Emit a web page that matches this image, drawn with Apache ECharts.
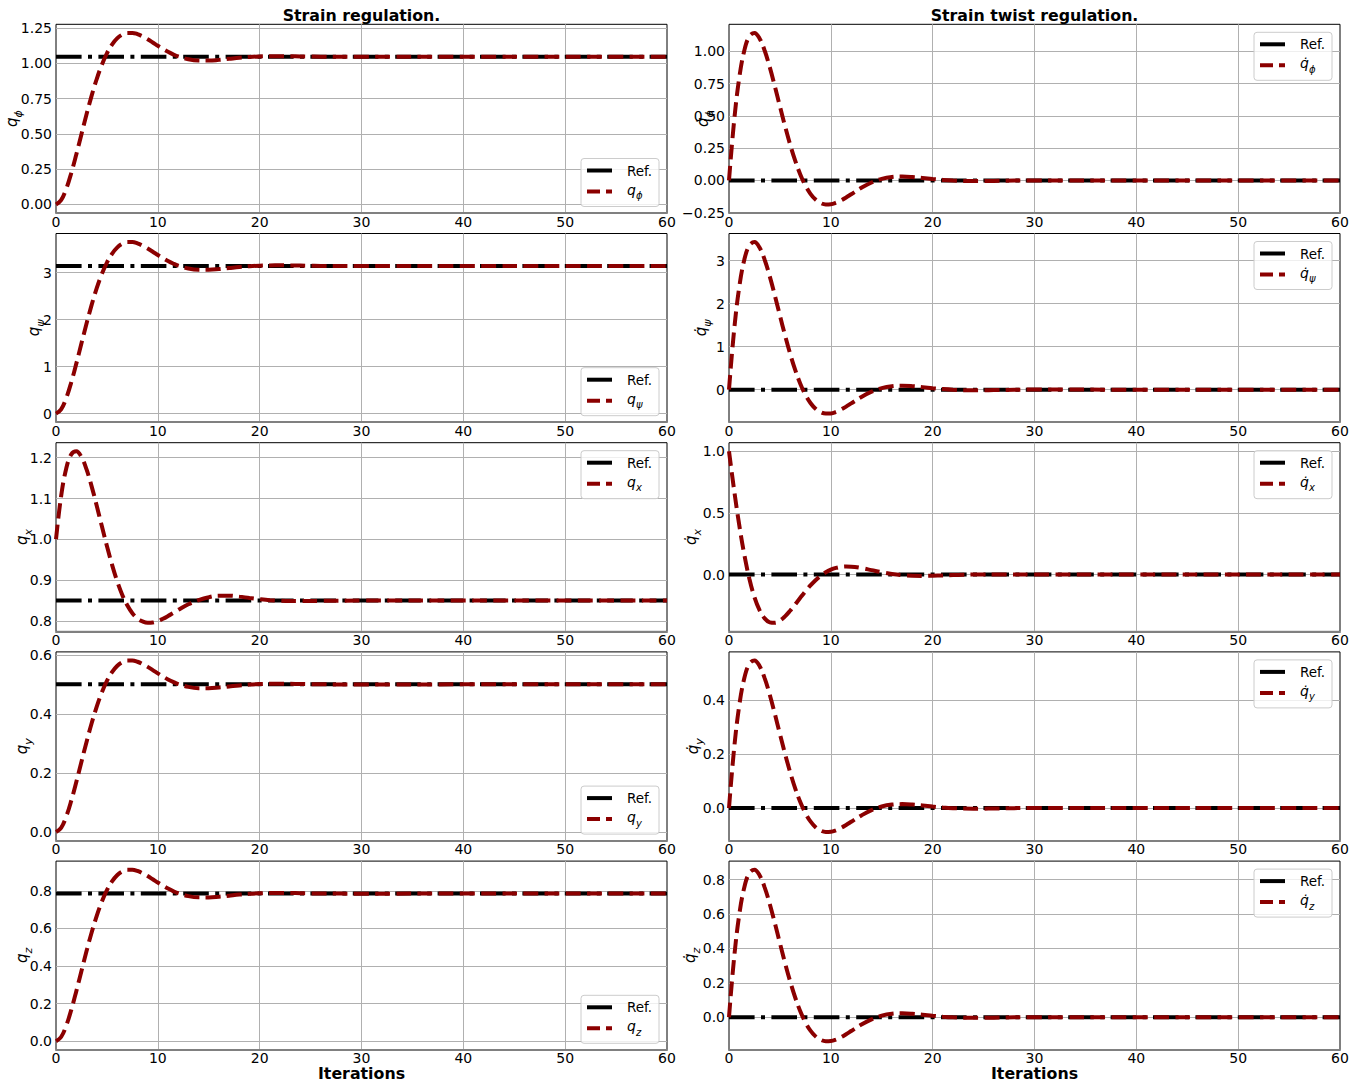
<!DOCTYPE html>
<html><head><meta charset="utf-8">
<script src="https://cdn.jsdelivr.net/npm/echarts@6/dist/echarts.min.js"></script>
<style>html,body{margin:0;padding:0;background:#fff}#c{width:1357px;height:1082px}</style>
</head><body><div id="c"></div>
<script>
// ---------------- data ----------------
const T = [0,0.5,1,1.5,2,2.5,3,3.5,4,4.5,5,5.5,6,6.5,7,7.5,8,8.5,9,9.5,10,10.5,11,11.5,12,
  13,14,15,16,17,18,19,20,21,22,23,24,25,26,30,40,50,60];

const xTicks = [0,10,20,30,40,50,60];

// Strain regulation (left column)
const refPhi = 1.0472, refPsi = 3.1416, refX = 0.85, refY = 0.5, refZ = 0.7854;
const qPhi = [0,0.0300,0.1093,0.2227,0.3564,0.4985,0.6393,0.7714,0.8895,0.9902,1.0717,1.1338,1.1774,1.2042,1.2165,1.2167,1.2076,1.1916,1.1712,1.1486,1.1253,1.1029,1.0824,1.0645,1.0496,
  1.0292,1.0204,1.0201,1.0252,1.0325,1.0398,1.0456,1.0495,1.0514,1.0517,1.0511,1.0499,1.0487,1.0477,1.0466,1.0472,1.0472,1.0472];
const qPsi = [0,0.0900,0.3280,0.6681,1.0691,1.4954,1.9179,2.3143,2.6686,2.9704,3.2150,3.4014,3.5322,3.6127,3.6494,3.6501,3.6226,3.5748,3.5137,3.4456,3.3759,3.3087,3.2472,3.1935,3.1488,
  3.0877,3.0610,3.0604,3.0757,3.0976,3.1194,3.1369,3.1484,3.1541,3.1551,3.1532,3.1497,3.1461,3.1430,3.1396,3.1416,3.1416,3.1416];
const qX = [1.0,1.1052,1.1730,1.2081,1.2157,1.2015,1.1712,1.1298,1.0822,1.0324,0.9836,0.9382,0.8980,0.8645,0.8385,0.8190,0.8063,0.7989,0.7955,0.7961,0.7998,0.8053,0.8121,0.8196,0.8272,
  0.8410,0.8512,0.8583,0.8620,0.8620,0.8597,0.8563,0.8534,0.8510,0.8495,0.8488,0.8487,0.8490,0.8493,0.8500,0.85,0.85,0.85];
const qY = [0,0.0143,0.0522,0.1063,0.1702,0.2380,0.3052,0.3683,0.4247,0.4728,0.5117,0.5413,0.5622,0.5750,0.5808,0.5809,0.5766,0.5689,0.5592,0.5484,0.5373,0.5266,0.5168,0.5083,0.5011,
  0.4914,0.4872,0.4871,0.4895,0.4930,0.4965,0.4993,0.5011,0.5020,0.5022,0.5018,0.5013,0.5007,0.5002,0.4997,0.5,0.5,0.5];
const qZ = [0,0.0225,0.0820,0.1670,0.2673,0.3738,0.4795,0.5786,0.6671,0.7426,0.8038,0.8503,0.8831,0.9032,0.9124,0.9125,0.9057,0.8937,0.8784,0.8614,0.8440,0.8272,0.8118,0.7984,0.7872,
  0.7719,0.7653,0.7651,0.7689,0.7744,0.7799,0.7842,0.7871,0.7885,0.7888,0.7883,0.7874,0.7865,0.7858,0.7849,0.7854,0.7854,0.7854];

// Strain twist regulation (right column)
const refDot = 0;
const dPhi = [0,0.4585,0.7903,1.0053,1.1174,1.1432,1.1005,1.0066,0.8781,0.7298,0.5741,0.4213,0.2791,0.1530,0.0463,-0.0392,-0.1037,-0.1483,-0.1748,-0.1858,-0.1842,-0.1728,-0.1544,-0.1316,-0.1066,
  -0.0570,-0.0160,0.0120,0.0266,0.0304,0.0268,0.0195,0.0113,0.0041,-0.0010,-0.0039,-0.0049,-0.0046,-0.0035,0.0005,0,0,0];
const dPsi = [0,1.3754,2.3709,3.0158,3.3521,3.4296,3.3013,3.0198,2.6344,2.1893,1.7223,1.2638,0.8372,0.4589,0.1390,-0.1177,-0.3112,-0.4448,-0.5243,-0.5574,-0.5526,-0.5184,-0.4632,-0.3948,-0.3198,
  -0.1711,-0.0480,0.0359,0.0799,0.0912,0.0805,0.0584,0.0338,0.0124,-0.0030,-0.0118,-0.0148,-0.0138,-0.0105,0.0016,0,0,0];
const dX = [1.0,0.6868,0.4050,0.1633,-0.0339,-0.1830,-0.2885,-0.3550,-0.3870,-0.3910,-0.3730,-0.3385,-0.2930,-0.2415,-0.1880,-0.1360,-0.0880,-0.0455,-0.0098,0.0186,0.0398,0.0542,0.0625,0.0656,0.0644,
  0.0532,0.0362,0.0190,0.0050,-0.0045,-0.0093,-0.0105,-0.0092,-0.0066,-0.0037,-0.0013,0.0005,0.0014,0.0017,0,0,0,0];
const dY = [0,0.2189,0.3773,0.4800,0.5335,0.5458,0.5254,0.4806,0.4193,0.3484,0.2741,0.2011,0.1332,0.0730,0.0221,-0.0187,-0.0495,-0.0708,-0.0834,-0.0887,-0.0879,-0.0825,-0.0737,-0.0628,-0.0509,
  -0.0272,-0.0076,0.0057,0.0127,0.0145,0.0128,0.0093,0.0054,0.0020,-0.0005,-0.0019,-0.0024,-0.0022,-0.0017,0.0003,0,0,0];
const dZ = [0,0.3439,0.5927,0.7540,0.8380,0.8574,0.8253,0.7550,0.6586,0.5473,0.4306,0.3159,0.2093,0.1147,0.0348,-0.0294,-0.0778,-0.1112,-0.1311,-0.1394,-0.1381,-0.1296,-0.1158,-0.0987,-0.0799,
  -0.0428,-0.0120,0.0090,0.0200,0.0228,0.0201,0.0146,0.0085,0.0031,-0.0008,-0.0029,-0.0037,-0.0034,-0.0026,0.0004,0,0,0];

// y tick labels
const ticksPhi = [0,0.25,0.5,0.75,1.0,1.25];
const ticksPsi = [0,1,2,3];
const ticksX = [0.8,0.9,1.0,1.1,1.2];
const ticksY = [0,0.2,0.4,0.6];
const ticksZ = [0,0.2,0.4,0.6,0.8];
const ticksDPhi = [-0.25,0,0.25,0.5,0.75,1.0];
const ticksDPsi = [0,1,2,3];
const ticksDX = [0,0.5,1.0];
const ticksDY = [0,0.2,0.4];
const ticksDZ = [0,0.2,0.4,0.6,0.8];

const titles = ['Strain regulation.', 'Strain twist regulation.'];
const xLabel = 'Iterations';
const refName = 'Ref.';

// ---------------- layout ----------------
const colLeft = [56, 729], gridW = 611;
const rowTop = [24.3, 233.5, 442.7, 651.9, 861.1], gridH = 188.7;
const yLabelX = [[14, 36, 24, 24, 24], [705, 703, 693, 695, 692]];
const FONT = 'DejaVu Sans';
const TICK = 14;

const panels = [
  {col:0,row:0,y:qPhi,ref:refPhi,ticks:ticksPhi,dec:2,sub:'ϕ',dot:false,leg:'lr'},
  {col:0,row:1,y:qPsi,ref:refPsi,ticks:ticksPsi,dec:0,sub:'ψ',dot:false,leg:'lr'},
  {col:0,row:2,y:qX,ref:refX,ticks:ticksX,dec:1,sub:'x',dot:false,leg:'ur'},
  {col:0,row:3,y:qY,ref:refY,ticks:ticksY,dec:1,sub:'y',dot:false,leg:'lr'},
  {col:0,row:4,y:qZ,ref:refZ,ticks:ticksZ,dec:1,sub:'z',dot:false,leg:'lr'},
  {col:1,row:0,y:dPhi,ref:refDot,ticks:ticksDPhi,dec:2,sub:'ϕ',dot:true,leg:'ur'},
  {col:1,row:1,y:dPsi,ref:refDot,ticks:ticksDPsi,dec:0,sub:'ψ',dot:true,leg:'ur'},
  {col:1,row:2,y:dX,ref:refDot,ticks:ticksDX,dec:1,sub:'x',dot:true,leg:'ur'},
  {col:1,row:3,y:dY,ref:refDot,ticks:ticksDY,dec:1,sub:'y',dot:true,leg:'ur'},
  {col:1,row:4,y:dZ,ref:refDot,ticks:ticksDZ,dec:1,sub:'z',dot:true,leg:'ur'}
];

function fmt(v, d) {
  const s = Math.abs(v).toFixed(d);
  return (v < -1e-9 ? '\u2212' : '') + s;
}
function mathText(sub, dot, size) {
  return {
    text: '{q|' + (dot ? 'q\u0307' : 'q') + '}{s|' + sub + '}',
    rich: {
      q: {fontFamily: FONT, fontStyle: 'italic', fontSize: size, fill: '#000', verticalAlign: 'bottom', padding: [0, 0, Math.round(size * 0.25), 0]},
      s: {fontFamily: FONT, fontStyle: 'italic', fontSize: Math.round(size * 0.7), fill: '#000', verticalAlign: 'bottom'}
    }
  };
}

const grids = [], xAxes = [], yAxes = [], series = [], gfx = [];
panels.forEach((p, i) => {
  const gx = colLeft[p.col], gy = rowTop[p.row];
  grids.push({left: gx, top: gy, width: gridW, height: gridH, show: true,
    borderColor: '#000', borderWidth: 1, backgroundColor: 'transparent'});
  const all = p.y.concat([p.ref]);
  const lo = Math.min.apply(null, all), hi = Math.max.apply(null, all);
  const pad = 0.05 * (hi - lo);
  xAxes.push({type: 'value', gridIndex: i, min: xTicks[0], max: xTicks[xTicks.length - 1], interval: 10,
    axisLine: {show: true, onZero: false, lineStyle: {color: '#808080', width: 2}},
    axisTick: {show: false},
    axisLabel: {margin: 1, fontSize: TICK, lineHeight: 15, fontFamily: FONT, color: '#000'},
    splitLine: {show: true, showMinLine: false, showMaxLine: false, lineStyle: {color: '#b0b0b0', width: 1}}});
  yAxes.push({type: 'value', gridIndex: i, min: lo - pad, max: hi + pad,
    axisLine: {show: false},
    axisTick: {show: false, customValues: p.ticks},
    axisLabel: {customValues: p.ticks, margin: 4, fontSize: TICK, fontFamily: FONT, color: '#000',
      formatter: (v) => fmt(v, p.dec)},
    splitLine: {show: true, lineStyle: {color: '#b0b0b0', width: 1}}});
  series.push({type: 'line', name: refName, xAxisIndex: i, yAxisIndex: i,
    data: [[xTicks[0], p.ref], [xTicks[xTicks.length - 1], p.ref]],
    symbol: 'none', silent: true, z: 2,
    lineStyle: {color: '#000', width: 4, type: [25.6, 6.4, 4, 6.4], cap: 'butt'}});
  series.push({type: 'line', name: 'q' + p.sub, xAxisIndex: i, yAxisIndex: i,
    data: T.map((t, k) => [t, p.y[k]]),
    symbol: 'none', smooth: 0.4, silent: true, z: 3,
    lineStyle: {color: '#8b0000', width: 4, type: [14.8, 6.4], cap: 'butt'}});

  // y label
  const ml = mathText(p.sub, p.dot, 15);
  gfx.push({type: 'text', x: yLabelX[p.col][p.row], y: gy + gridH / 2, rotation: Math.PI / 2, z: 50, silent: true,
    style: Object.assign({align: 'center', verticalAlign: 'middle'}, ml)});

  // legend
  const bw = 78, bh = 48;
  const bx = gx + gridW - 8 - bw;
  const by = p.leg === 'ur' ? gy + 8 : gy + gridH - 6.5 - bh;
  gfx.push({type: 'rect', z: 100, silent: true, shape: {x: bx, y: by, width: bw, height: bh, r: 3},
    style: {fill: 'rgba(255,255,255,0.8)', stroke: '#cccccc', lineWidth: 1}});
  gfx.push({type: 'line', z: 101, silent: true, shape: {x1: bx + 6, y1: by + 12, x2: bx + 31, y2: by + 12},
    style: {stroke: '#000', lineWidth: 4}});
  gfx.push({type: 'line', z: 101, silent: true, shape: {x1: bx + 6, y1: by + 33, x2: bx + 31, y2: by + 33},
    style: {stroke: '#8b0000', lineWidth: 4, lineDash: [13, 6]}});
  gfx.push({type: 'text', z: 101, silent: true, x: bx + 46, y: by + 12,
    style: {text: refName, fontSize: 13.5, fontFamily: FONT, fill: '#000', align: 'left', verticalAlign: 'middle'}});
  const lt = mathText(p.sub, p.dot, 14);
  gfx.push({type: 'text', z: 101, silent: true, x: bx + 46, y: by + 33,
    style: Object.assign({align: 'left', verticalAlign: 'middle'}, lt)});
});

[0, 1].forEach(c => {
  const cx = colLeft[c] + gridW / 2;
  gfx.push({type: 'text', x: cx, y: 15, z: 50, silent: true,
    style: {text: titles[c], fontSize: 15.8, fontWeight: 'bold', fontFamily: FONT, fill: '#000', align: 'center', verticalAlign: 'middle'}});
  gfx.push({type: 'text', x: cx, y: 1073.5, z: 50, silent: true,
    style: {text: xLabel, fontSize: 15.8, lineHeight: 16, fontWeight: 'bold', fontFamily: FONT, fill: '#000', align: 'center', verticalAlign: 'middle'}});
});

const chart = echarts.init(document.getElementById('c'), null, {renderer: 'svg'});
chart.setOption({
  animation: false,
  backgroundColor: '#fff',
  grid: grids, xAxis: xAxes, yAxis: yAxes, series: series,
  graphic: {elements: gfx}
});
</script>
</body></html>
